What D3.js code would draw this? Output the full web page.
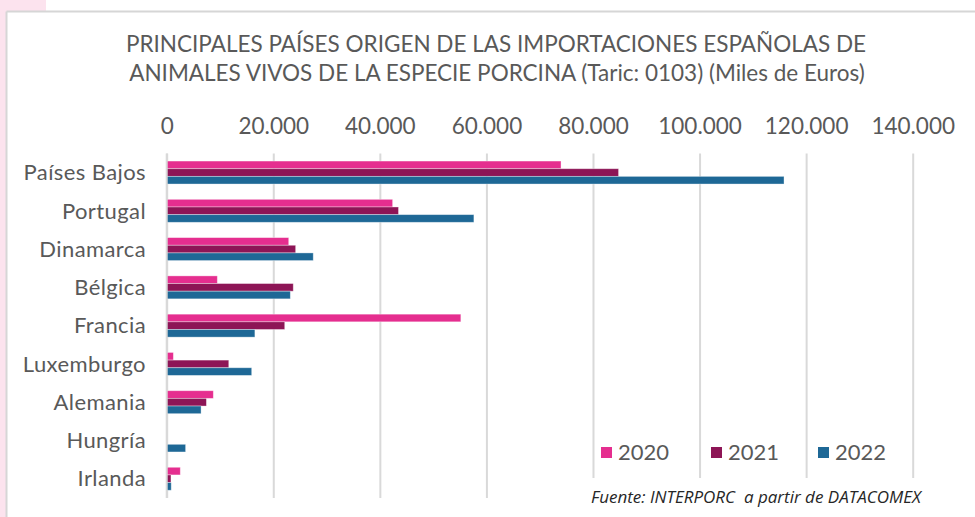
<!DOCTYPE html>
<html>
<head>
<meta charset="utf-8">
<script src="https://cdn.jsdelivr.net/npm/d3@7"></script>
<style>
  html, body { margin: 0; padding: 0; background: #fff; }
  svg { display: block; }
</style>
</head>
<body>
<svg id="chart" width="975" height="517"></svg>
<script>
// Import values, thousands of euros
const countries = ["Países Bajos", "Portugal", "Dinamarca", "Bélgica", "Francia", "Luxemburgo", "Alemania", "Hungría", "Irlanda"];
const years = ["2020", "2021", "2022"];
const values2020 = [74000, 42400, 22900, 9500, 55200, 1250, 8750, 0, 2550];
const values2021 = [84800, 43500, 24200, 23750, 22150, 11650, 7450, 0, 800];
const values2022 = [115850, 57650, 27500, 23200, 16550, 15950, 6450, 3550, 850];
const tickValues = [0, 20000, 40000, 60000, 80000, 100000, 120000, 140000];
const colors = ["#e52e8f", "#8d1556", "#1e6896"];

const seriesValues = [values2020, values2021, values2022];
const rows = countries.map((c, i) => ({
  country: c,
  vals: years.map((y, k) => ({ year: y, value: seriesValues[k][i], k }))
}));

const svg = d3.select("#chart");
const W = 975, H = 517;

// Page frame: pink margin and light grey panel border
svg.append("rect").attr("x", 0).attr("y", 0).attr("width", W).attr("height", H).attr("fill", "#fff");
svg.append("rect").attr("x", 0).attr("y", 0).attr("width", 46).attr("height", 12).attr("fill", "#fce3ee");
svg.append("rect").attr("x", 0).attr("y", 0).attr("width", 6).attr("height", H).attr("fill", "#fce3ee");
svg.append("line").attr("x1", 6.5).attr("x2", W).attr("y1", 11.5).attr("y2", 11.5)
  .attr("stroke", "#d6d6d6").attr("stroke-width", 2);
svg.append("line").attr("x1", 6.5).attr("x2", 6.5).attr("y1", 11.5).attr("y2", H)
  .attr("stroke", "#d6d6d6").attr("stroke-width", 2);

const x = d3.scaleLinear().domain([0, 140000]).range([166.7, 912.7]);
const y = d3.scaleBand().domain(countries).range([153.4, 497.9]).paddingInner(0.4).paddingOuter(0.2);
const yInner = d3.scaleBand().domain(years).range([0, y.bandwidth()]);

const fmt = v => d3.format(",")(v).replace(/,/g, ".");

// Title
const title = svg.append("text")
  .attr("text-anchor", "middle")
  .attr("fill", "#595959")
  .style("font-family", "Lato, 'Open Sans', sans-serif")
  .style("font-size", "22.5px");
title.append("tspan").attr("x", 496).attr("y", 52).text("PRINCIPALES PAÍSES ORIGEN DE LAS IMPORTACIONES ESPAÑOLAS DE");
title.append("tspan").attr("x", 497).attr("y", 81).text("ANIMALES VIVOS DE LA ESPECIE PORCINA (Taric: 0103) (Miles de Euros)");

// Vertical gridlines and top axis labels
const xAxis = d3.axisTop(x)
  .tickValues(tickValues)
  .tickFormat(fmt)
  .tickSize(-(497.9 - 153.4))
  .tickPadding(0);
const gx = svg.append("g").attr("transform", "translate(0,153.4)").call(xAxis);
gx.select(".domain").remove();
gx.selectAll(".tick line").attr("stroke", "#d9d9d9").attr("stroke-width", 2);
gx.selectAll(".tick text")
  .attr("y", -19)
  .attr("fill", "#595959")
  .style("font-family", "Lato, 'Open Sans', sans-serif")
  .style("font-size", "22.5px");

// Category labels
const yAxis = d3.axisLeft(y).tickSize(0).tickPadding(0);
const gy = svg.append("g").attr("transform", "translate(146,0)").call(yAxis);
gy.select(".domain").remove();
gy.selectAll(".tick text")
  .attr("fill", "#595959")
  .attr("dy", "0.35em")
  .style("font-family", "Lato, 'Open Sans', sans-serif")
  .style("font-size", "22px")
  .style("letter-spacing", "0.4px");

// Bars
const groups = svg.append("g").selectAll("g").data(rows).join("g")
  .attr("transform", d => `translate(0,${y(d.country)})`);
groups.selectAll("rect").data(d => d.vals.filter(v => v.value > 0)).join("rect")
  .attr("x", x(0))
  .attr("y", d => yInner(d.year))
  .attr("width", d => x(d.value) - x(0))
  .attr("height", yInner.bandwidth())
  .attr("fill", d => colors[d.k])
  .attr("stroke", "#ffffff")
  .attr("stroke-opacity", 0.45)
  .attr("stroke-width", 0.8);

// Axis line at zero
svg.append("line").attr("x1", x(0)).attr("x2", x(0)).attr("y1", 153.4).attr("y2", 497.9)
  .attr("stroke", "#d9d9d9").attr("stroke-width", 2);

// Source note on a white box
svg.append("rect").attr("x", 588).attr("y", 478).attr("width", 345).attr("height", 30).attr("fill", "#fff");
svg.append("text")
  .attr("x", 591).attr("y", 503)
  .attr("fill", "#262626")
  .style("font-family", "'Open Sans', sans-serif")
  .style("font-style", "italic")
  .style("font-size", "17px")
  .style("white-space", "pre")
  .text("Fuente: INTERPORC  a partir de DATACOMEX");

// Legend
const legendX = [601, 711, 818];
const legend = svg.append("g").selectAll("g").data(years).join("g")
  .attr("transform", (d, i) => `translate(${legendX[i]},447)`);
legend.append("rect").attr("width", 11).attr("height", 11).attr("fill", (d, i) => colors[i]);
legend.append("text")
  .attr("x", 17).attr("y", 5.5).attr("dy", "0.36em")
  .attr("fill", "#595959")
  .style("font-family", "Lato, 'Open Sans', sans-serif")
  .style("font-size", "22px")
  .text(d => d);
</script>
</body>
</html>
